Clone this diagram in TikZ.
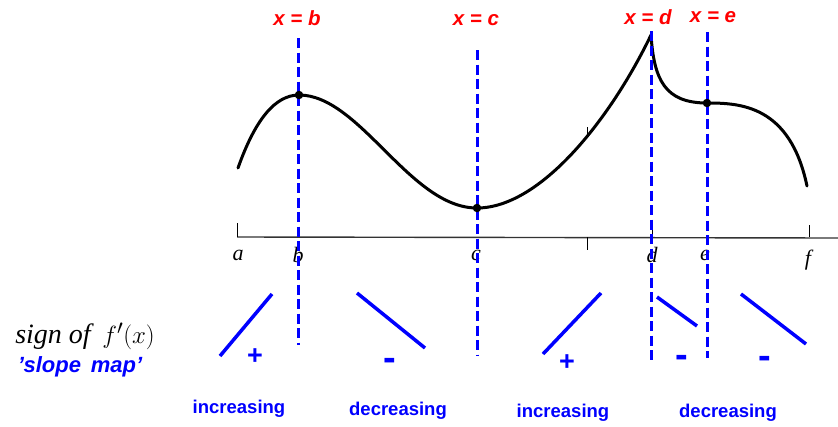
\documentclass[tikz,border=0pt]{standalone}
\usepackage{fontspec}
\setmainfont{Liberation Sans}
\newfontfamily\serifit{Liberation Serif}
\begin{document}
\begin{tikzpicture}[x=1pt,y=-1pt,
  vline/.style={draw=blue, line width=3pt, dash pattern=on 10pt off 4.5pt},
  slopeline/.style={draw=blue, line width=3.5pt},
  redlbl/.style={text=red, font=\fontsize{20.5}{22}\selectfont\bfseries\itshape, inner sep=0pt},
  bluelbl/.style={text=blue, font=\fontsize{18.5}{20}\selectfont\bfseries, inner sep=0pt},
  signlbl/.style={text=blue, font=\fontsize{27}{28}\selectfont\bfseries, inner sep=0pt},
  minuslbl/.style={text=blue, font=\fontsize{38}{40}\selectfont\bfseries, inner sep=0pt},
  axlbl/.style={font=\fontsize{22}{24}\selectfont\serifit\itshape, inner sep=0pt},
  dot/.style={circle, fill=black, inner sep=0pt, minimum size=8.5pt},
  curve/.style={line width=3pt, line cap=round, line join=round}]
\useasboundingbox (0,0) rectangle (838,426);
% axis
\coordinate (axL) at (237,237);
\coordinate (axR) at (838,238);
\draw[line width=1.4pt, black!80] (axL) -- (axR);
\draw[line width=1pt] (237,223) -- (237,237);
\draw[line width=1pt] (587,237) -- (587,250);
\draw[line width=1pt] (652,225) -- (652,237);
\draw[line width=1pt] (809,225) -- (809,237);
\draw[line width=1pt] (587,127) -- (587,137);
% axis labels
\node[axlbl] (la) at (238,255) {a};
\node[axlbl] (lb) at (298,255) {b};
\node[axlbl] (lc) at (476,255) {c};
\node[axlbl] (ld) at (652,255) {d};
\node[axlbl] (le) at (705,255) {e};
\node[axlbl] (lf) at (808,260) {f};
% curve
\coordinate (p0) at (238,168);
\coordinate (pb) at (299,95);
\coordinate (pc) at (477,208);
\coordinate (pd) at (651,35);
\coordinate (pe) at (707,103);
\coordinate (pf) at (807,186);
\draw[curve] (p0) .. controls (255,120) and (275,95) .. (pb)
  .. controls (360,95) and (410,208) .. (pc)
  .. controls (540,208) and (610,120) .. (pd)
  .. controls (654,80) and (665,103) .. (pe)
  .. controls (740,103) and (790,105) .. (pf);
% dashed vertical lines
\coordinate (bt) at (298,38);  \coordinate (bb) at (298,345);
\coordinate (ct) at (477,50);  \coordinate (cb) at (477,356);
\coordinate (dt) at (651,31);  \coordinate (db) at (651,360);
\coordinate (et) at (707,32);  \coordinate (eb) at (707,358);
\draw[vline] (bt) -- (bb);
\draw[vline] (ct) -- (cb);
\draw[vline] (dt) -- (db);
\draw[vline] (et) -- (eb);
% dots
\node[dot] (db1) at (pb) {};
\node[dot] (dc1) at (pc) {};
\node[dot] (de1) at (pe) {};
% red labels
\node[redlbl] (xb) at (297,18) {x = b};
\node[redlbl] (xc) at (476,20) {x = c};
\node[redlbl] (xd) at (648,17) {x = d};
\node[redlbl] (xe) at (713,17) {x = e};
% slope map lines
\coordinate (s1a) at (220,356); \coordinate (s1b) at (272,294);
\coordinate (s2a) at (357,293); \coordinate (s2b) at (425,348);
\coordinate (s3a) at (543,354); \coordinate (s3b) at (601,293);
\coordinate (s4a) at (657,297); \coordinate (s4b) at (697,326);
\coordinate (s5a) at (741,294); \coordinate (s5b) at (806,344);
\draw[slopeline] (s1a) -- (s1b);
\draw[slopeline] (s2a) -- (s2b);
\draw[slopeline] (s3a) -- (s3b);
\draw[slopeline] (s4a) -- (s4b);
\draw[slopeline] (s5a) -- (s5b);
% signs
\node[signlbl] (g1) at (255,357) {+};
\node[minuslbl] (g2) at (390,364) {-};
\node[signlbl] (g3) at (567,363) {+};
\node[minuslbl] (g4) at (682,361) {-};
\node[minuslbl] (g5) at (765,362) {-};
% words
\node[bluelbl] (w1) at (239,409) {increasing};
\node[bluelbl] (w2) at (398,411) {decreasing};
\node[bluelbl] (w3) at (563,413) {increasing};
\node[bluelbl] (w4) at (728,413) {decreasing};
% left labels
\node[inner sep=0pt, font=\fontsize{28}{30}\selectfont] (sg) at (85,336) {\serifit\itshape sign of\, $f'\!\left(x\right)$};
\node[inner sep=0pt, text=blue, font=\fontsize{22}{24}\selectfont\bfseries\itshape] (sm) at (80,367) {'slope\, map'};
\end{tikzpicture}
\end{document}
